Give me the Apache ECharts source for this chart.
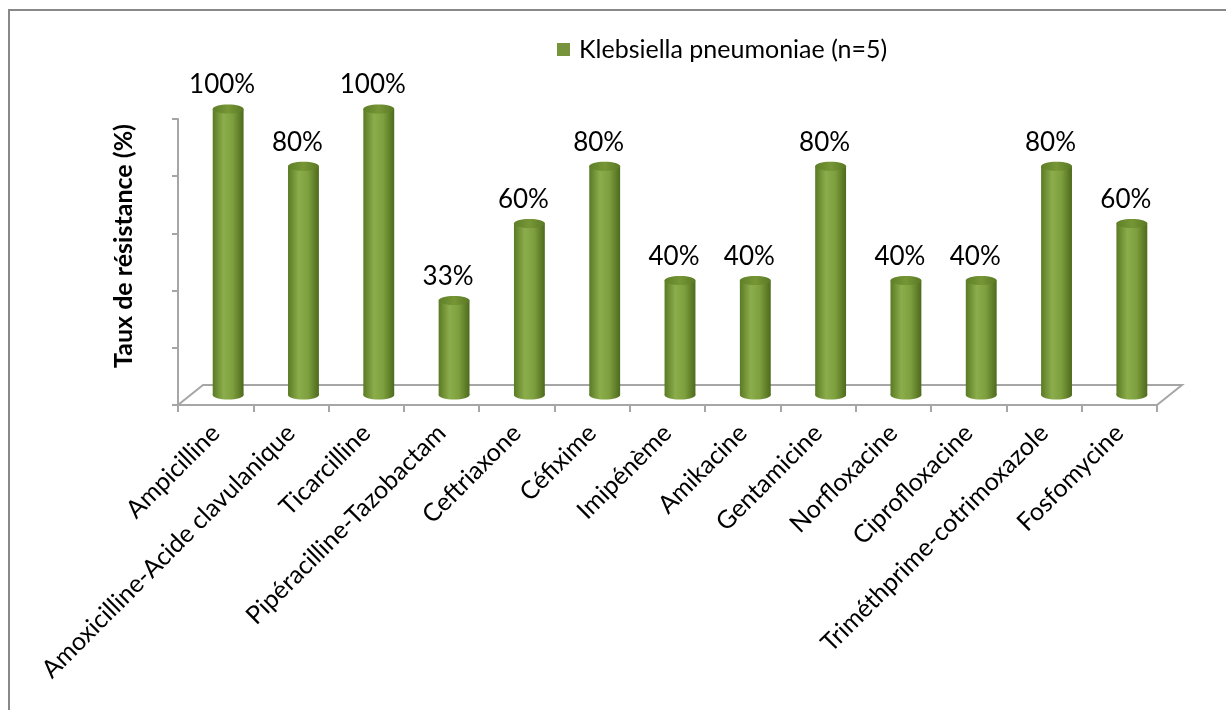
<!DOCTYPE html>
<html>
<head>
<meta charset="utf-8">
<style>
  html, body { margin: 0; padding: 0; background: #fff; }
  #chart { width: 1226px; height: 710px; }
</style>
<script src="https://cdn.jsdelivr.net/npm/echarts@6/dist/echarts.min.js"></script>
</head>
<body>
<div id="chart"></div>
<script>
// données
const categories = [
  'Ampicilline', 'Amoxicilline-Acide clavulanique', 'Ticarcilline',
  'Pipéracilline-Tazobactam', 'Ceftriaxone', 'Céfixime', 'Imipénème',
  'Amikacine', 'Gentamicine', 'Norfloxacine', 'Ciprofloxacine',
  'Triméthprime-cotrimoxazole', 'Fosfomycine'
]
const resistance = [100, 80, 100, 33, 60, 80, 40, 40, 80, 40, 40, 80, 60]
const seriesName = 'Klebsiella pneumoniae (n=5)'
const yTicks = [0, 20, 40, 60, 80, 100]

const FONT = 'Lato'
const DX = 25, DY = 20 // profondeur du plancher 3D

const chart = echarts.init(document.getElementById('chart'))

const bodyFill = new echarts.graphic.LinearGradient(0, 0, 1, 0, [
  { offset: 0, color: '#5a7a24' },
  { offset: 0.35, color: '#8cad4b' },
  { offset: 0.65, color: '#7e9f3d' },
  { offset: 1, color: '#4d6a1d' }
])
const topFill = new echarts.graphic.LinearGradient(0, 0, 1, 0, [
  { offset: 0, color: '#5f7f28' },
  { offset: 0.5, color: '#769636' },
  { offset: 1, color: '#5a7924' }
])

function renderCylinder(params, api) {
  const idx = api.value(0)
  const val = api.value(1)
  const base = api.coord([idx, 0])
  const top = api.coord([idx, val])
  const bw = api.size([1, 0])[0] * 0.41
  const cx = base[0] + DX / 2
  const by = base[1] - DY / 2
  const ty = top[1] - DY / 2
  const rx = bw / 2, ry = 4.5
  return {
    type: 'group',
    children: [
      { type: 'ellipse', shape: { cx: cx, cy: by, rx: rx, ry: ry }, style: { fill: bodyFill } },
      { type: 'rect', shape: { x: cx - rx, y: ty, width: bw, height: by - ty }, style: { fill: bodyFill } },
      { type: 'ellipse', shape: { cx: cx, cy: ty, rx: rx, ry: ry }, style: { fill: topFill } },
      {
        type: 'text',
        style: {
          x: cx - 6, y: ty - 11,
          text: val + '%',
          font: '26px ' + FONT,
          fill: '#000',
          align: 'center',
          verticalAlign: 'bottom'
        }
      }
    ]
  }
}

function renderFloor(params, api) {
  const cs = params.coordSys
  const x0 = cs.x, x1 = cs.x + cs.width, y0 = cs.y + cs.height
  return {
    type: 'polyline',
    shape: { points: [[x0, y0], [x0 + DX, y0 - DY], [x1 + DX, y0 - DY], [x1, y0]] },
    style: { stroke: '#a6a6a6', lineWidth: 2, fill: null },
    silent: true
  }
}

chart.setOption({
  animation: false,
  backgroundColor: '#fff',
  grid: { left: 178, right: 69, top: 119, bottom: 305 },
  legend: {
    left: 552, top: 32,
    icon: 'rect', itemWidth: 13, itemHeight: 13,
    data: [seriesName],
    textStyle: { fontFamily: FONT, fontSize: 25, color: '#000', padding: [0, 0, 0, 4] }
  },
  xAxis: {
    type: 'category',
    data: categories,
    axisLine: { lineStyle: { color: '#a6a6a6', width: 2 } },
    axisTick: { show: true, length: 7, alignWithLabel: false, lineStyle: { color: '#a6a6a6', width: 2 } },
    axisLabel: {
      rotate: 45, interval: 0, margin: 24, padding: [22, 0, 0, 0],
      fontFamily: FONT, fontSize: 25, color: '#000'
    }
  },
  yAxis: {
    type: 'value',
    min: yTicks[0], max: yTicks[yTicks.length - 1], interval: 20,
    axisLine: { show: true, lineStyle: { color: '#a6a6a6', width: 2 } },
    axisTick: { show: true, length: 6, lineStyle: { color: '#a6a6a6', width: 2 } },
    axisLabel: { show: false },
    splitLine: { show: false }
  },
  graphic: [
    { type: 'rect', shape: { x: 9, y: 10, width: 1400, height: 900 }, style: { fill: null, stroke: '#888', lineWidth: 2 }, z: 100, silent: true },
    {
      type: 'text', x: 124, y: 246, rotation: Math.PI / 2,
      style: { text: 'Taux de résistance (%)', font: 'bold 25px ' + FONT, fill: '#000', align: 'center', verticalAlign: 'middle' }
    }
  ],
  series: [
    { type: 'custom', name: 'floor', renderItem: renderFloor, data: [0], z: 1, silent: true },
    {
      type: 'custom', name: seriesName,
      itemStyle: { color: '#77933c' },
      renderItem: renderCylinder,
      data: resistance.map((v, i) => [i, v]),
      encode: { x: 0, y: 1 },
      z: 5
    }
  ]
})
</script>
</body>
</html>
